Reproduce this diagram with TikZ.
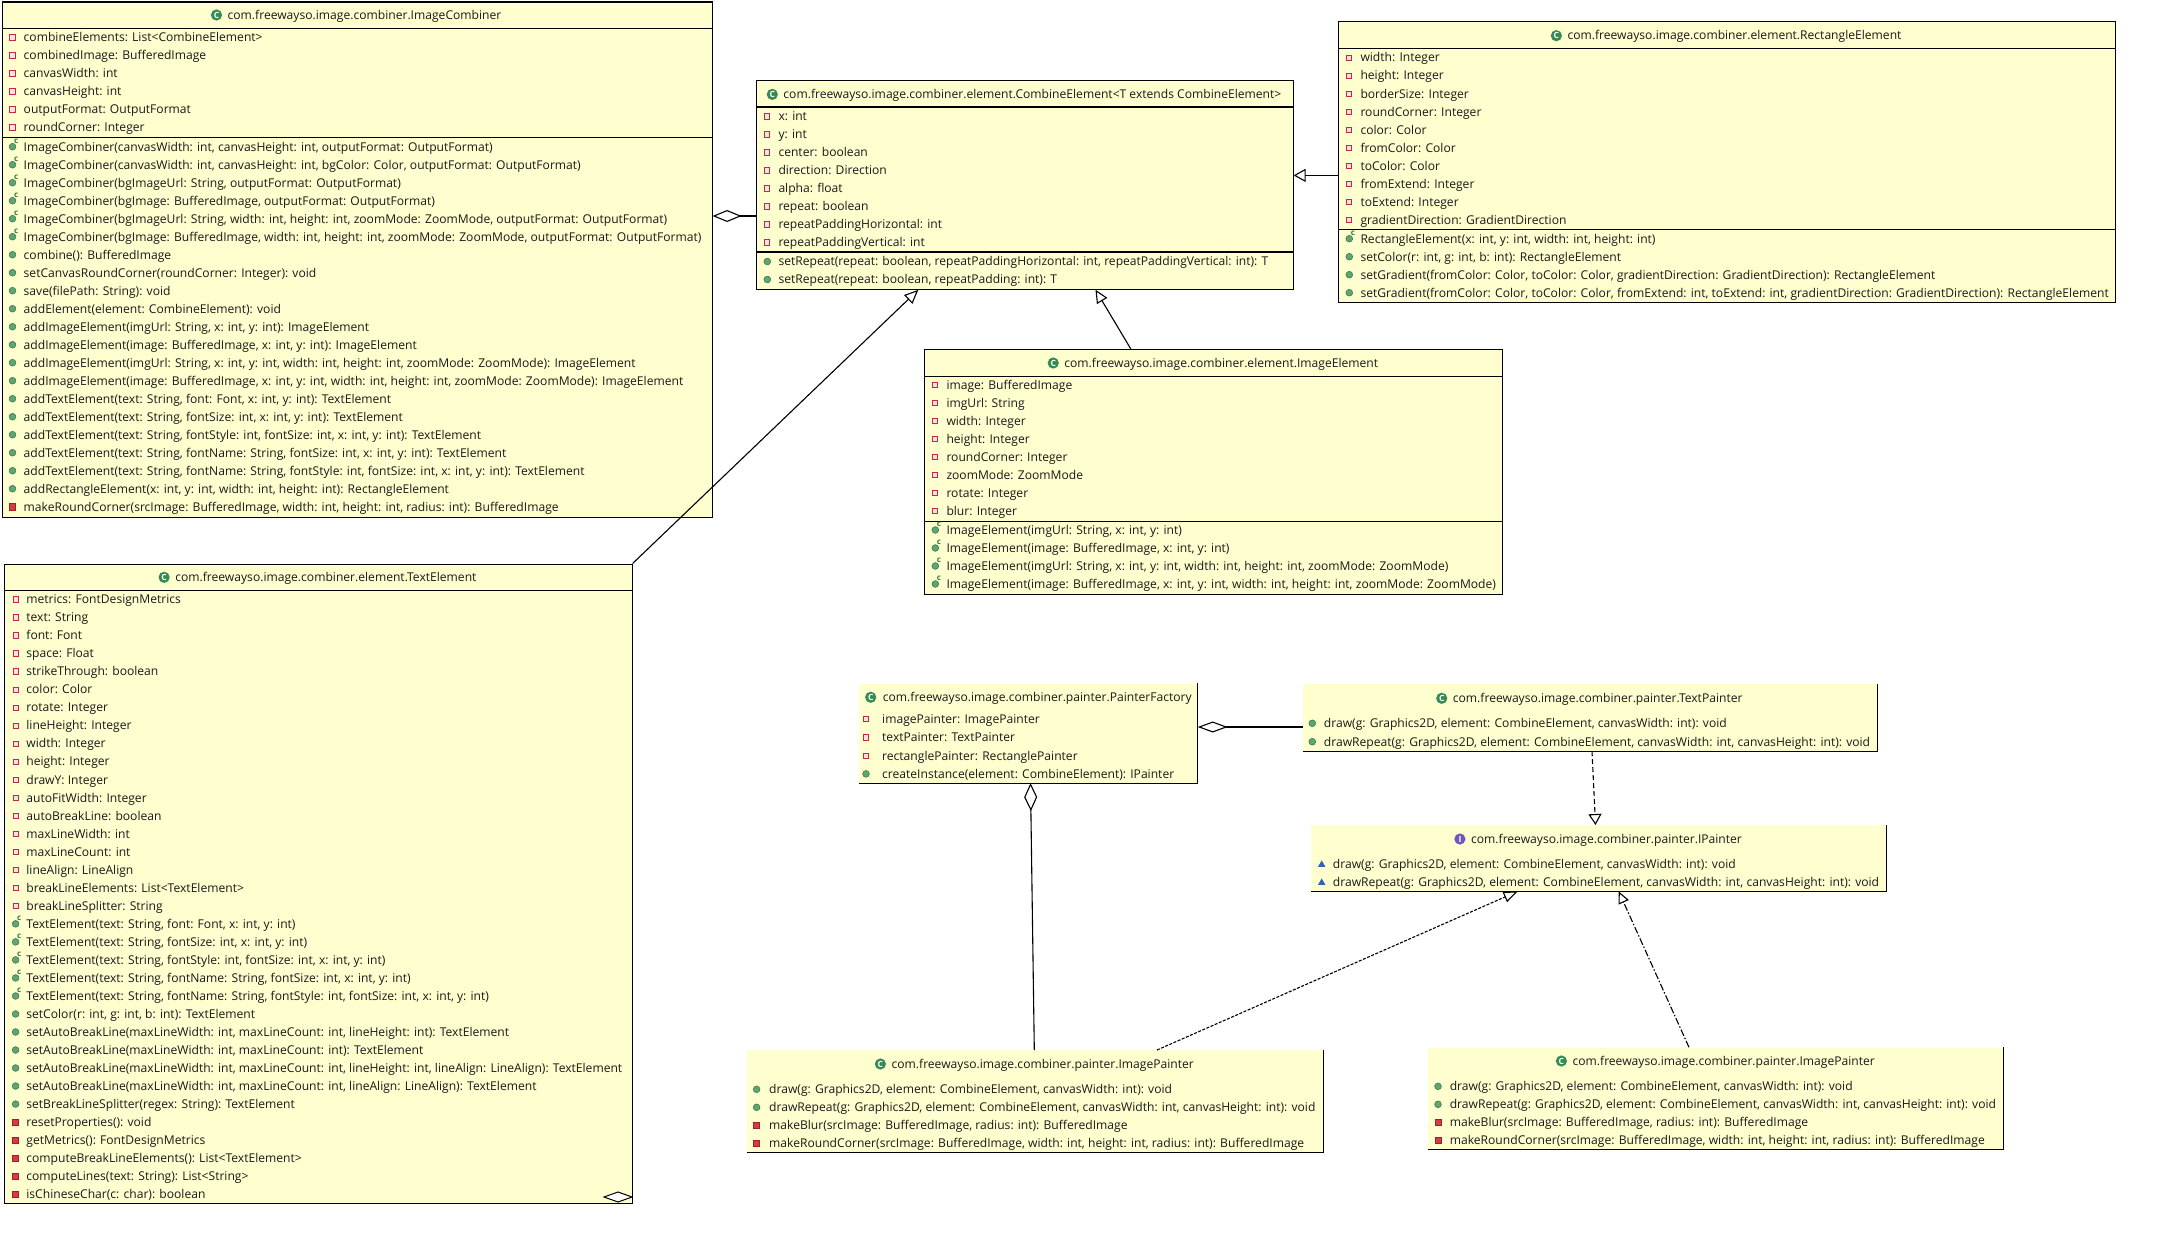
\documentclass[tikz,border=0pt]{standalone}
\usepackage{fontspec}
\setmainfont{Open Sans}
\usetikzlibrary{arrows.meta}
\definecolor{boxfill}{RGB}{254,254,206}
\definecolor{attrred}{RGB}{200,40,60}
\definecolor{attrin}{RGB}{250,225,228}
\definecolor{pubgreen}{RGB}{96,164,114}
\definecolor{pubdark}{RGB}{46,120,70}
\definecolor{privred}{RGB}{214,58,66}
\definecolor{privdark}{RGB}{160,30,40}
\definecolor{absblue}{RGB}{47,103,176}
\definecolor{clsgreen}{RGB}{52,140,84}
\definecolor{ifpurple}{RGB}{112,86,182}
\definecolor{txtc}{RGB}{25,25,25}

\tikzset{
  rowtext/.style={inner sep=0pt, text=txtc, font=\fontsize{12.1}{14}\selectfont},
  classbox/.style={draw=black, line width=1.1pt, fill=boxfill, inner sep=0pt, rectangle},
  painterbox/.style={fill=boxfill, inner sep=0pt, rectangle},
  sepline/.style={line width=1.1pt, black},
  conn/.style={line width=1.1pt, black},
  densedash/.style={dash pattern=on 3pt off 1.5pt},
  dashdotted/.style={dash pattern=on 7pt off 2pt on 1.5pt off 2pt},
  shortdash/.style={dash pattern=on 5pt off 3pt},
}

\newcommand\iconattr[1]{\begin{scope}[shift={#1}]\draw[draw=attrred, fill=attrin, line width=1pt] (-2.6,-2.6) rectangle (2.6,2.6);\end{scope}}
\newcommand\iconpubm[1]{\begin{scope}[shift={#1}]\fill[pubgreen] (0,0) circle (3.4);\draw[pubdark, line width=0.5pt] (0,0) circle (3.4);\end{scope}}
\newcommand\iconctor[1]{\begin{scope}[shift={#1}]\fill[pubgreen] (0,0) circle (3.4);\draw[pubdark, line width=0.5pt] (0,0) circle (3.4);\node[inner sep=0pt, text=pubdark, font=\fontsize{8}{8}\selectfont\bfseries] (ctorc) at (3.6,-5.4) {c};\end{scope}}
\newcommand\iconprivm[1]{\begin{scope}[shift={#1}]\fill[privred] (-3.1,-3.1) rectangle (3.1,3.1);\draw[privdark, line width=0.5pt] (-3.1,-3.1) rectangle (3.1,3.1);\end{scope}}
\newcommand\iconabsm[1]{\begin{scope}[shift={#1}]\fill[absblue] (-3.7,2.8) -- (3.7,2.8) -- (0,-3.6) -- cycle;\end{scope}}
\newcommand\iconcls[1]{\begin{scope}[shift={#1}]\fill[clsgreen] (0,0) circle (5.6);\node[inner sep=0pt, text=white, font=\fontsize{8.5}{8.5}\selectfont\bfseries] (clsC) at (0,0) {C};\end{scope}}
\newcommand\iconif[1]{\begin{scope}[shift={#1}]\fill[ifpurple] (0,0) circle (5.6);\node[inner sep=0pt, text=white, font=\fontsize{8.5}{8.5}\selectfont\bfseries] (ifI) at (0,0) {I};\end{scope}}

% name, left, top, right, bottom, style
\newcommand\umlbox[6]{\node[#6, anchor=north west, minimum width={#4-#2}, minimum height={#5-#3}] (#1) at (#2,#3) {};}
% name, x of text centre, y, icon, text
\newcommand\umltitle[5]{\node[rowtext, anchor=base] (#1) at (#2,#3+4.3) {#5};
  \path (#1.base west) ++(-11,-4.3) coordinate (#1-ic);
  \csname icon#4\endcsname{(#1-ic)}}
% prefix, icon x, text x, y0, step, list
\newcommand\umlrows[6]{\foreach \rowkind/\rowtxt [count=\i from 0] in {#6}{%
   \pgfmathsetmacro\yy{#4+\i*#5}%
   \csname icon\rowkind\endcsname{(#2,\yy)}%
   \node[rowtext, anchor=base west] (#1-\i) at (#3,\yy+4.3) {\rowtxt};}}

\begin{document}
\begin{tikzpicture}[x=1pt,y=-1pt]
\fill[white] (0,0) rectangle (2166,1255);
\useasboundingbox (0,0) rectangle (2166,1255);

% ---------------- ImageCombiner
\umlbox{ic}{1.5}{1.5}{711.5}{516.5}{classbox}
\draw[sepline] (1.5,28.4) -- (711.5,28.4);
\draw[sepline] (1.5,137.6) -- (711.5,137.6);
\umltitle{ic-title}{364.5}{15}{cls}{com.freewayso.image.combiner.ImageCombiner}
\umlrows{ic-a}{12.5}{23.5}{37.5}{18}{attr/{combineElements: List<CombineElement>},attr/{combinedImage: BufferedImage},attr/{canvasWidth: int},attr/{canvasHeight: int},attr/{outputFormat: OutputFormat},attr/{roundCorner: Integer}}
\umlrows{ic-m}{12.5}{23.5}{146.7}{18}{ctor/{ImageCombiner(canvasWidth: int, canvasHeight: int, outputFormat: OutputFormat)},ctor/{ImageCombiner(canvasWidth: int, canvasHeight: int, bgColor: Color, outputFormat: OutputFormat)},ctor/{ImageCombiner(bgImageUrl: String, outputFormat: OutputFormat)},ctor/{ImageCombiner(bgImage: BufferedImage, outputFormat: OutputFormat)},ctor/{ImageCombiner(bgImageUrl: String, width: int, height: int, zoomMode: ZoomMode, outputFormat: OutputFormat)},ctor/{ImageCombiner(bgImage: BufferedImage, width: int, height: int, zoomMode: ZoomMode, outputFormat: OutputFormat)},pubm/{combine(): BufferedImage},pubm/{setCanvasRoundCorner(roundCorner: Integer): void},pubm/{save(filePath: String): void},pubm/{addElement(element: CombineElement): void},pubm/{addImageElement(imgUrl: String, x: int, y: int): ImageElement},pubm/{addImageElement(image: BufferedImage, x: int, y: int): ImageElement},pubm/{addImageElement(imgUrl: String, x: int, y: int, width: int, height: int, zoomMode: ZoomMode): ImageElement},pubm/{addImageElement(image: BufferedImage, x: int, y: int, width: int, height: int, zoomMode: ZoomMode): ImageElement},pubm/{addTextElement(text: String, font: Font, x: int, y: int): TextElement},pubm/{addTextElement(text: String, fontSize: int, x: int, y: int): TextElement},pubm/{addTextElement(text: String, fontStyle: int, fontSize: int, x: int, y: int): TextElement},pubm/{addTextElement(text: String, fontName: String, fontSize: int, x: int, y: int): TextElement},pubm/{addTextElement(text: String, fontName: String, fontStyle: int, fontSize: int, x: int, y: int): TextElement},pubm/{addRectangleElement(x: int, y: int, width: int, height: int): RectangleElement},privm/{makeRoundCorner(srcImage: BufferedImage, width: int, height: int, radius: int): BufferedImage}}

% ---------------- CombineElement
\umlbox{ce}{756.3}{80.2}{1292.5}{288.7}{classbox}
\draw[sepline] (756.3,107) -- (1292.5,107);
\draw[sepline] (756.3,252) -- (1292.5,252);
\umltitle{ce-title}{1032.4}{94.4}{cls}{com.freewayso.image.combiner.element.CombineElement<T extends CombineElement>}
\umlrows{ce-a}{767.3}{778.3}{116.5}{18}{attr/{x: int},attr/{y: int},attr/{center: boolean},attr/{direction: Direction},attr/{alpha: float},attr/{repeat: boolean},attr/{repeatPaddingHorizontal: int},attr/{repeatPaddingVertical: int}}
\umlrows{ce-m}{767.3}{778.3}{261.5}{18}{pubm/{setRepeat(repeat: boolean, repeatPaddingHorizontal: int, repeatPaddingVertical: int): T},pubm/{setRepeat(repeat: boolean, repeatPadding: int): T}}

% ---------------- RectangleElement
\umlbox{re}{1338.3}{21.3}{2114.7}{302.3}{classbox}
\draw[sepline] (1338.3,48.7) -- (2114.7,48.7);
\draw[sepline] (1338.3,229.3) -- (2114.7,229.3);
\umltitle{re-title}{1734.5}{35.7}{cls}{com.freewayso.image.combiner.element.RectangleElement}
\umlrows{re-a}{1349.3}{1360.3}{57.7}{18}{attr/{width: Integer},attr/{height: Integer},attr/{borderSize: Integer},attr/{roundCorner: Integer},attr/{color: Color},attr/{fromColor: Color},attr/{toColor: Color},attr/{fromExtend: Integer},attr/{toExtend: Integer},attr/{gradientDirection: GradientDirection}}
\umlrows{re-m}{1349.3}{1360.3}{238.7}{18}{ctor/{RectangleElement(x: int, y: int, width: int, height: int)},pubm/{setColor(r: int, g: int, b: int): RectangleElement},pubm/{setGradient(fromColor: Color, toColor: Color, gradientDirection: GradientDirection): RectangleElement},pubm/{setGradient(fromColor: Color, toColor: Color, fromExtend: int, toExtend: int, gradientDirection: GradientDirection): RectangleElement}}

% ---------------- ImageElement
\umlbox{ie}{924.3}{349.3}{1502.3}{594.3}{classbox}
\draw[sepline] (924.3,376.3) -- (1502.3,376.3);
\draw[sepline] (924.3,521.3) -- (1502.3,521.3);
\umltitle{ie-title}{1221.3}{363}{cls}{com.freewayso.image.combiner.element.ImageElement}
\umlrows{ie-a}{935.3}{946.3}{385}{18}{attr/{image: BufferedImage},attr/{imgUrl: String},attr/{width: Integer},attr/{height: Integer},attr/{roundCorner: Integer},attr/{zoomMode: ZoomMode},attr/{rotate: Integer},attr/{blur: Integer}}
\umlrows{ie-m}{935.3}{946.3}{530}{18}{ctor/{ImageElement(imgUrl: String, x: int, y: int)},ctor/{ImageElement(image: BufferedImage, x: int, y: int)},ctor/{ImageElement(imgUrl: String, x: int, y: int, width: int, height: int, zoomMode: ZoomMode)},ctor/{ImageElement(image: BufferedImage, x: int, y: int, width: int, height: int, zoomMode: ZoomMode)}}

% ---------------- TextElement
\umlbox{te}{4.2}{563.5}{631.5}{1203}{classbox}
\draw[sepline] (4.2,590.4) -- (631.5,590.4);
\umltitle{te-title}{325.9}{577.3}{cls}{com.freewayso.image.combiner.element.TextElement}
\umlrows{te-r}{15.6}{26.2}{599.5}{18.02}{attr/{metrics: FontDesignMetrics},attr/{text: String},attr/{font: Font},attr/{space: Float},attr/{strikeThrough: boolean},attr/{color: Color},attr/{rotate: Integer},attr/{lineHeight: Integer},attr/{width: Integer},attr/{height: Integer},attr/{drawY: Integer},attr/{autoFitWidth: Integer},attr/{autoBreakLine: boolean},attr/{maxLineWidth: int},attr/{maxLineCount: int},attr/{lineAlign: LineAlign},attr/{breakLineElements: List<TextElement>},attr/{breakLineSplitter: String},ctor/{TextElement(text: String, font: Font, x: int, y: int)},ctor/{TextElement(text: String, fontSize: int, x: int, y: int)},ctor/{TextElement(text: String, fontStyle: int, fontSize: int, x: int, y: int)},ctor/{TextElement(text: String, fontName: String, fontSize: int, x: int, y: int)},ctor/{TextElement(text: String, fontName: String, fontStyle: int, fontSize: int, x: int, y: int)},pubm/{setColor(r: int, g: int, b: int): TextElement},pubm/{setAutoBreakLine(maxLineWidth: int, maxLineCount: int, lineHeight: int): TextElement},pubm/{setAutoBreakLine(maxLineWidth: int, maxLineCount: int): TextElement},pubm/{setAutoBreakLine(maxLineWidth: int, maxLineCount: int, lineHeight: int, lineAlign: LineAlign): TextElement},pubm/{setAutoBreakLine(maxLineWidth: int, maxLineCount: int, lineAlign: LineAlign): TextElement},pubm/{setBreakLineSplitter(regex: String): TextElement},privm/{resetProperties(): void},privm/{getMetrics(): FontDesignMetrics},privm/{computeBreakLineElements(): List<TextElement>},privm/{computeLines(text: String): List<String>},privm/{isChineseChar(c: char): boolean}}
\draw[line width=1pt, fill=white] (632,1197) -- (618,1192) -- (604,1197) -- (618,1202) -- cycle;

% ---------------- PainterFactory
\umlbox{pf}{859}{683.3}{1197.3}{782.7}{painterbox}
\draw[line width=1.1pt] (pf.north east) -- (pf.south east) -- (pf.south west);
\node[rowtext, anchor=base west] (pf-title) at (882.7,697.3+4.3) {com.freewayso.image.combiner.painter.PainterFactory};
\path (pf-title.base west) ++(-12,-4.3) coordinate (pf-ic);
\iconcls{(pf-ic)}
\umlrows{pf-r}{866}{882}{719.3}{18.2}{attr/{imagePainter: ImagePainter},attr/{textPainter: TextPainter},attr/{rectanglePainter: RectanglePainter},pubm/{createInstance(element: CombineElement): IPainter}}

% ---------------- TextPainter
\umlbox{tp}{1302.8}{684}{1876.7}{750.7}{painterbox}
\draw[line width=1.1pt] (tp.north east) -- (tp.south east) -- (tp.south west);
\umltitle{tp-title}{1597.7}{698.3}{cls}{com.freewayso.image.combiner.painter.TextPainter}
\umlrows{tp-m}{1312.3}{1323.7}{723.3}{18.4}{pubm/{draw(g: Graphics2D, element: CombineElement, canvasWidth: int): void},pubm/{drawRepeat(g: Graphics2D, element: CombineElement, canvasWidth: int, canvasHeight: int): void}}

% ---------------- IPainter
\umlbox{ip}{1311}{825}{1886}{891}{painterbox}
\draw[line width=1.1pt] (ip.north east) -- (ip.south east) -- (ip.south west);
\umltitle{ip-title}{1606.5}{839}{if}{com.freewayso.image.combiner.painter.IPainter}
\umlrows{ip-m}{1321.7}{1332.7}{864}{18}{absm/{draw(g: Graphics2D, element: CombineElement, canvasWidth: int): void},absm/{drawRepeat(g: Graphics2D, element: CombineElement, canvasWidth: int, canvasHeight: int): void}}

% ---------------- ImagePainter (left)
\umlbox{ipl}{746.6}{1050}{1322.8}{1152.3}{painterbox}
\draw[line width=1.1pt] (ipl.north east) -- (ipl.south east) -- (ipl.south west);
\umltitle{ipl-title}{1042.7}{1064}{cls}{com.freewayso.image.combiner.painter.ImagePainter}
\umlrows{ipl-m}{756.6}{769}{1089.3}{18}{pubm/{draw(g: Graphics2D, element: CombineElement, canvasWidth: int): void},pubm/{drawRepeat(g: Graphics2D, element: CombineElement, canvasWidth: int, canvasHeight: int): void},privm/{makeBlur(srcImage: BufferedImage, radius: int): BufferedImage},privm/{makeRoundCorner(srcImage: BufferedImage, width: int, height: int, radius: int): BufferedImage}}

% ---------------- ImagePainter (right)
\umlbox{ipr}{1428}{1047.3}{2003.4}{1149.3}{painterbox}
\draw[line width=1.1pt] (ipr.north east) -- (ipr.south east) -- (ipr.south west);
\umltitle{ipr-title}{1723.7}{1061}{cls}{com.freewayso.image.combiner.painter.ImagePainter}
\umlrows{ipr-m}{1438}{1449.6}{1086.3}{18}{pubm/{draw(g: Graphics2D, element: CombineElement, canvasWidth: int): void},pubm/{drawRepeat(g: Graphics2D, element: CombineElement, canvasWidth: int, canvasHeight: int): void},privm/{makeBlur(srcImage: BufferedImage, radius: int): BufferedImage},privm/{makeRoundCorner(srcImage: BufferedImage, width: int, height: int, radius: int): BufferedImage}}

% ---------------- connectors
\draw[conn, {Diamond[open, length=29pt, width=12pt]}-] (ic.east |- 0,216) -- (ce.west |- 0,216);
\draw[conn, -{Triangle[open, length=12pt, width=13pt]}] (re.west |- 0,175.4) -- (ce.east |- 0,175.4);
\draw[conn, -{Triangle[open, length=14pt, width=12pt]}] (te.north east) -- (ce.south -| 918.3,0);
\draw[conn, -{Triangle[open, length=13pt, width=12pt]}] (ie.north -| 1131,0) -- (ce.south -| 1095.5,0);
\draw[conn, {Diamond[open, length=30pt, width=11pt]}-] (pf.east |- 0,727) -- (tp.west |- 0,727);
\draw[conn, {Diamond[open, length=28pt, width=13pt]}-] (pf.south -| 1030.5,0) -- (ipl.north -| 1034.3,0);
\draw[conn, shortdash, -{Triangle[open, length=11pt, width=13pt]}] (tp.south -| 1592,0) -- (ip.north -| 1595.5,0);
\draw[conn, densedash, -{Triangle[open, length=14pt, width=11pt]}] (ipl.north -| 1157,0) -- (ip.south -| 1517.6,0);
\draw[conn, dashdotted, -{Triangle[open, length=12pt, width=11pt]}] (ipr.north -| 1689,0) -- (ip.south -| 1618.7,0);
\end{tikzpicture}
\end{document}
